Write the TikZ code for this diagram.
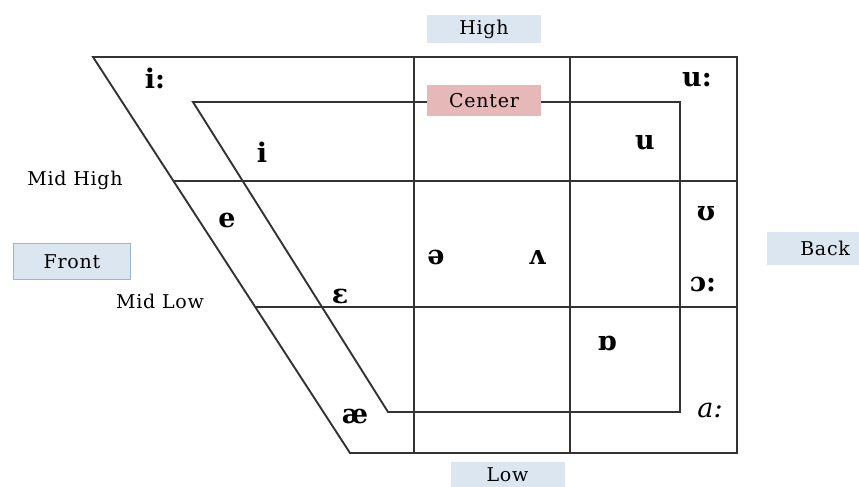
\documentclass[tikz,border=0pt]{standalone}
\usepackage{fontspec}
\setmainfont{DejaVu Serif}
\newfontfamily\ipafont{DejaVu Serif}
\definecolor{gridline}{HTML}{333333}
\definecolor{tagblue}{HTML}{DCE6F1}
\definecolor{tagpink}{HTML}{E6B8B7}
\definecolor{tagedge}{HTML}{9BB5D4}
\begin{document}
\begin{tikzpicture}[x=1pt,y=-1pt,
  chartline/.style={draw=gridline,line width=1.9pt,line join=miter},
  vowel/.style={font=\ipafont\bfseries\fontsize{27}{27}\selectfont,inner sep=0pt},
  axislabel/.style={font=\addfontfeature{LetterSpace=4}\fontsize{19}{19}\selectfont,inner sep=0pt},
  tag/.style={fill=tagblue,minimum width=114pt,minimum height=28pt,inner sep=0pt,font=\addfontfeature{LetterSpace=4}\fontsize{19}{19}\selectfont}]
\useasboundingbox (0,0) rectangle (859,487);
% outer chart
\coordinate (o1) at (93,57);
\coordinate (o2) at (737,57);
\coordinate (o3) at (737,453);
\coordinate (o4) at (350,453);
% inner chart
\coordinate (n1) at (193,102);
\coordinate (n2) at (680,102);
\coordinate (n3) at (680,412);
\coordinate (n4) at (388,412);
% column and row dividers
\coordinate (c1t) at (414,57);  \coordinate (c1b) at (414,453);
\coordinate (c2t) at (570,57);  \coordinate (c2b) at (570,453);
\coordinate (r1l) at (173.5,181); \coordinate (r1r) at (737,181);
\coordinate (r2l) at (255,307);   \coordinate (r2r) at (737,307);

\draw[chartline] (o1) -- (o2) -- (o3) -- (o4) -- cycle;
\draw[chartline] (n1) -- (n2) -- (n3) -- (n4) -- cycle;
\draw[chartline] (c1t) -- (c1b);
\draw[chartline] (c2t) -- (c2b);
\draw[chartline] (r1l) -- (r1r);
\draw[chartline] (r2l) -- (r2r);

% axis tags
\node[tag] (high) at (484,29) {High};
\node[tag,fill=tagpink,minimum height=31pt] (center) at (484,100.5) {Center};
\node[tag,minimum height=26pt] (low) at (507.5,475) {Low};
\node[tag,draw=tagedge,line width=1pt,minimum width=117pt,minimum height=36pt] (front) at (72,261.5) {Front};
\node[tag,minimum width=92pt,minimum height=33pt,text width=74pt,align=right] (back) at (813,248.5) {Back};
\node[axislabel] (midhigh) at (75,180) {Mid High};
\node[axislabel] (midlow) at (160,301) {Mid Low};

% vowels
\node[vowel] (v1) at (155,78) {i:};
\node[vowel] (v2) at (262,152) {i};
\node[vowel] (v3) at (697,80) {u:};
\node[vowel] (v4) at (645,143) {u};
\node[vowel] (v5) at (227,220) {e};
\node[vowel] (v6) at (340,296) {ɛ};
\node[vowel] (v7) at (436,257) {ə};
\node[vowel] (v8) at (537,257) {ʌ};
\node[vowel] (v9) at (706,214) {ʊ};
\node[vowel] (v10) at (703,284) {ɔ:};
\node[vowel] (v11) at (607,343) {ɒ};
\node[vowel] (v12) at (355,416) {æ};
\node[vowel,font=\ipafont\itshape\fontsize{27}{27}\selectfont] (v13) at (710,410) {a:};
\end{tikzpicture}
\end{document}
